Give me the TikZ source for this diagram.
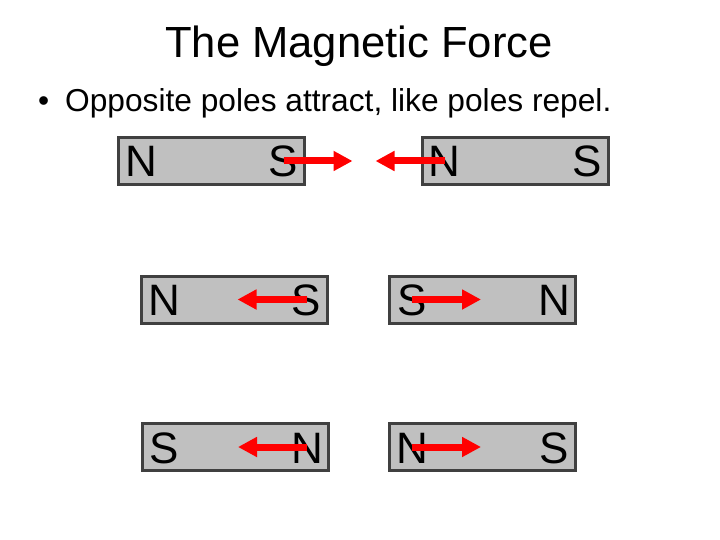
\documentclass[tikz,border=0pt]{standalone}
\usepackage{fontspec}
\setmainfont{Liberation Sans}
\usetikzlibrary{arrows.meta, positioning, calc}
\definecolor{magnetgray}{RGB}{192,192,192}
\definecolor{magnetedge}{RGB}{64,64,64}
\definecolor{forcered}{RGB}{255,0,0}

\begin{document}
\begin{tikzpicture}[x=1pt, y=-1pt]
  \tikzset{
    magnet/.style={
      rectangle, draw=magnetedge, fill=magnetgray, line width=3pt,
      minimum width=186pt, minimum height=47pt, inner sep=0pt
    },
    pole/.style={font=\fontsize{44}{44}\selectfont, inner sep=0pt, anchor=base},
    force/.style={-{Triangle[length=19pt, width=19pt]}, line width=7pt, color=forcered}
  }
  \useasboundingbox (0,0) rectangle (720,540);
  % heading and bullet line
  \node[font=\fontsize{43.6}{44}\selectfont, inner sep=0pt, anchor=base] (title) at (359,58) {The Magnetic Force};
  \node[font=\fontsize{31.7}{32}\selectfont, inner sep=0pt, anchor=base west] (rule) at (38,112)
    {\makebox[27pt][l]{\textbullet}Opposite poles attract, like poles repel.};
  % six bar magnets: name / centre / left pole / right pole
  \foreach \mag/\cx/\cy/\lp/\rp in {mA/211.5/161/N/S, mB/515/161/N/S,
                                    mC/234.5/299.5/N/S, mD/482.5/299.5/S/N,
                                    mE/235/447/S/N, mF/482.5/447/N/S}{
    \node[magnet] (\mag) at (\cx,\cy) {};
    \node[pole] (\mag-l) at ($(\mag.center)+(-70.5,16)$) {\lp};
    \node[pole] (\mag-r) at ($(\mag.center)+(72,16)$) {\rp};
  }
  % force arrows start on a pole, tip is a free coordinate
  \foreach \mag/\side/\dx in {mA/r/69, mB/l/-69, mC/r/-69, mD/l/69, mE/r/-69, mF/l/69}{
    \coordinate (\mag-tip) at ($(\mag-\side |- \mag)+(\dx,0)$);
    \draw[force] (\mag-\side |- \mag) -- (\mag-tip);
  }
\end{tikzpicture}
\end{document}
